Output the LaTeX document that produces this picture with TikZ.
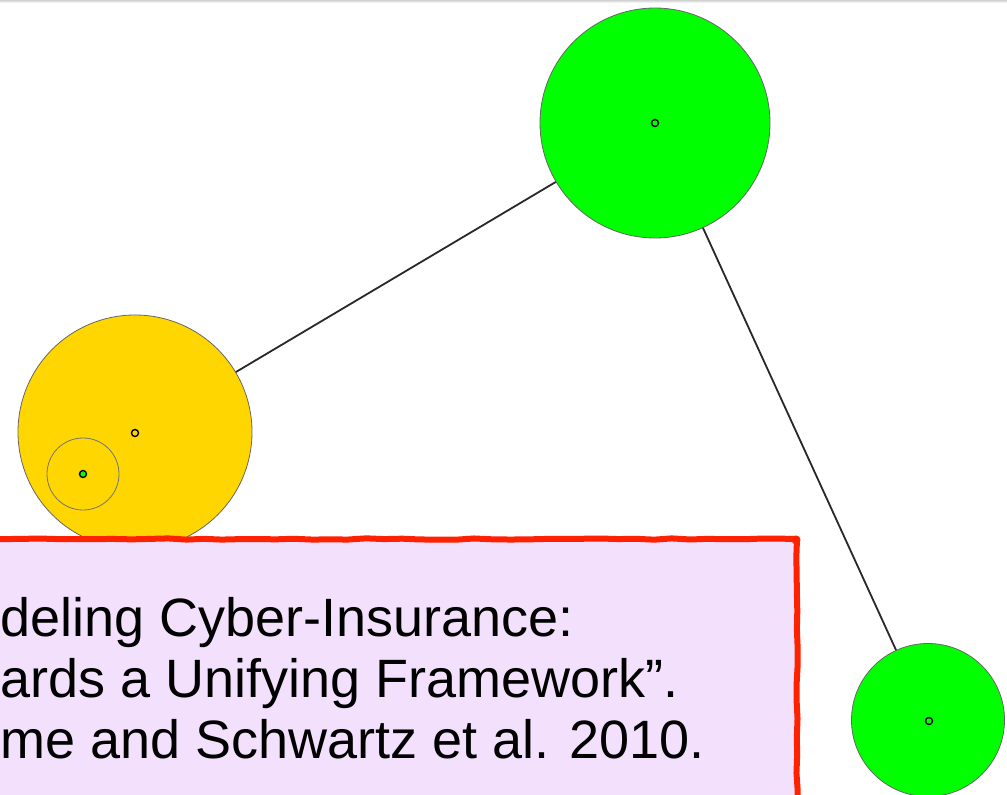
\documentclass[tikz,border=0pt]{standalone}
\usepackage{fontspec}
\setmainfont{Liberation Sans}
\usetikzlibrary{decorations.pathmorphing}
\definecolor{nodegreen}{RGB}{0,255,0}
\definecolor{nodegold}{RGB}{255,214,0}
\definecolor{notefill}{RGB}{243,224,253}
\definecolor{notered}{RGB}{255,34,0}
\definecolor{edgegray}{RGB}{40,40,40}
\tikzset{
  bubble/.style={circle, draw=black!60, line width=0.8pt, inner sep=0pt},
  hub/.style={circle, draw=black, line width=1.4pt, inner sep=0pt, minimum size=7pt},
  link/.style={draw=edgegray, line width=1.8pt},
  notetext/.style={anchor=base west, inner sep=0pt, font=\fontsize{54}{61}\selectfont},
}
\begin{document}
\begin{tikzpicture}[x=1pt, y=-1pt]
\useasboundingbox (0,0) rectangle (1007,795);
\clip (0,0) rectangle (1007,795);
\fill[white] (0,0) rectangle (1007,795);
% faint shadow strip along the top edge
\shade[top color=black!18, bottom color=white] (0,0) rectangle (1007,3);

% clusters
\node[bubble, fill=nodegreen, minimum size=230pt] (top) at (655,123) {};
\node[bubble, fill=nodegold, minimum size=234pt] (left) at (135,432) {};
\node[bubble, fill=nodegreen, minimum size=153pt] (right) at (928,720) {};
\node[bubble, draw=black!55, minimum size=72pt] (inner) at (83,474) {};

% cluster centres
\node[hub] (topc) at (655,123) {};
\node[hub] (leftc) at (135,433) {};
\node[hub, fill=nodegreen] (innerc) at (83,474) {};
\node[hub] (rightc) at (929,721) {};

% connections
\draw[link] (left) -- (top);
\draw[link] (top) -- (right);

% reference note
\fill[notefill] (-30,539) rectangle (797,830);
\draw[notered, line width=6pt, line join=round, line cap=round,
      decorate, decoration={random steps, segment length=18pt, amplitude=0.7pt}]
  (-30,539) -- (797,539) -- (797,830);
\fill[notered] (796,540) circle (4.5pt);
\node[notetext] (l1) at (0,636) {deling Cyber-Insurance:};
\node[notetext] (l2) at (0,697) {ards a Unifying Framework”.};
\node[notetext] (l3) at (0,758) {me and Schwartz et al. 2010.};
\end{tikzpicture}
\end{document}
